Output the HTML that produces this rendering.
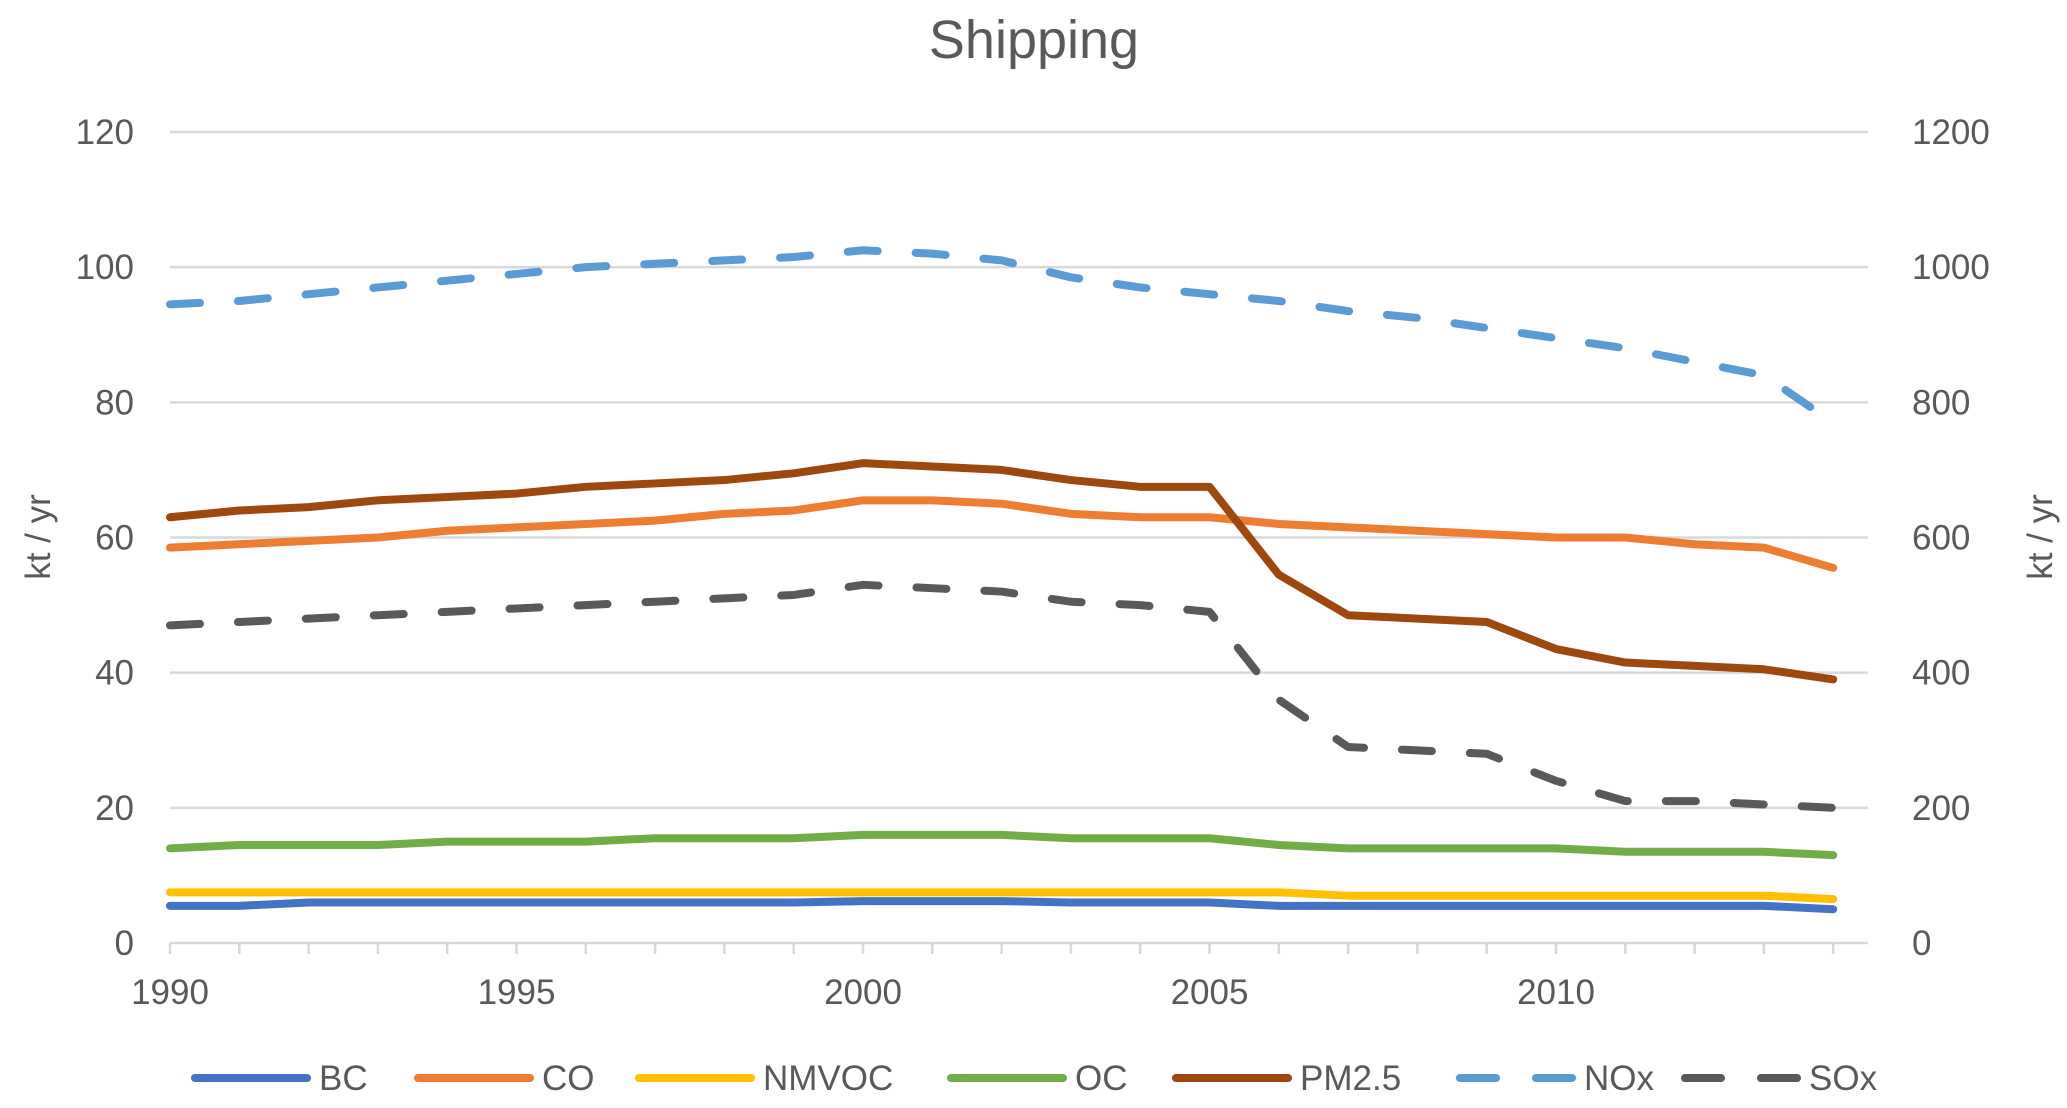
<!DOCTYPE html>
<html><head><meta charset="utf-8"><style>
html,body{margin:0;padding:0;background:#fff;}
svg{display:block;font-family:"Liberation Sans",sans-serif;}
</style></head><body>
<svg id="chart" width="2067" height="1108" viewBox="0 0 2067 1108" xmlns="http://www.w3.org/2000/svg">
<text x="1034" y="58" text-anchor="middle" font-size="54" fill="#595959">Shipping</text>
<g id="grid"></g><g id="axes"></g><g id="series"></g><g id="legend"></g>
<text transform="translate(50,537) rotate(-90)" text-anchor="middle" font-size="35" fill="#595959">kt / yr</text>
<text transform="translate(2052,537) rotate(-90)" text-anchor="middle" font-size="35" fill="#595959">kt / yr</text>
</svg>
<script>
const years=[1990,1991,1992,1993,1994,1995,1996,1997,1998,1999,2000,2001,2002,2003,2004,2005,2006,2007,2008,2009,2010,2011,2012,2013,2014];
const leftTicks=[0,20,40,60,80,100,120];
const rightTicks=[0,200,400,600,800,1000,1200];
const xLabels=[1990,1995,2000,2005,2010];
const bc=[5.5,5.5,6,6,6,6,6,6,6,6,6.2,6.2,6.2,6,6,6,5.5,5.5,5.5,5.5,5.5,5.5,5.5,5.5,5];
const co=[58.5,59,59.5,60,61,61.5,62,62.5,63.5,64,65.5,65.5,65,63.5,63,63,62,61.5,61,60.5,60,60,59,58.5,55.5];
const nmvoc=[7.5,7.5,7.5,7.5,7.5,7.5,7.5,7.5,7.5,7.5,7.5,7.5,7.5,7.5,7.5,7.5,7.5,7,7,7,7,7,7,7,6.5];
const oc=[14,14.5,14.5,14.5,15,15,15,15.5,15.5,15.5,16,16,16,15.5,15.5,15.5,14.5,14,14,14,14,13.5,13.5,13.5,13];
const pm25=[63,64,64.5,65.5,66,66.5,67.5,68,68.5,69.5,71,70.5,70,68.5,67.5,67.5,54.5,48.5,48,47.5,43.5,41.5,41,40.5,39];
const nox=[945,950,960,970,980,990,1000,1005,1010,1015,1025,1020,1010,985,970,960,950,935,925,910,895,880,860,840,770];
const sox=[470,475,480,485,490,495,500,505,510,515,530,525,520,505,500,490,360,290,285,280,240,210,210,205,200];

const NS="http://www.w3.org/2000/svg";
const X0=170,X1=1868,Y0=943,Y1=132;
const step=69.3;
const x=i=>X0+i*step;
const yL=v=>Y0-(v/120)*(Y0-Y1);
const yR=v=>Y0-(v/1200)*(Y0-Y1);
function mk(tag,attrs,parent){const e=document.createElementNS(NS,tag);for(const k in attrs)e.setAttribute(k,attrs[k]);parent.appendChild(e);return e;}
const grid=document.getElementById('grid'),axes=document.getElementById('axes'),ser=document.getElementById('series'),leg=document.getElementById('legend');
leftTicks.forEach((t,i)=>{
  if(t>0){const l=mk('line',{x1:X0,x2:X1,y1:yL(t),y2:yL(t),stroke:'#d9d9d9','stroke-width':2.5},grid);
  
  }
  const a=mk('text',{x:134,y:yL(t)+12,'text-anchor':'end','font-size':35,fill:'#595959'},axes);a.textContent=t;
  
  
  const b=mk('text',{x:1912,y:yR(rightTicks[i])+12,'text-anchor':'start','font-size':35,fill:'#595959'},axes);b.textContent=rightTicks[i];
  
  
});
const ax=mk('line',{x1:X0,x2:X1,y1:Y0,y2:Y0,stroke:'#d9d9d9','stroke-width':2.5},axes);


years.forEach((yr,i)=>{
  const t=mk('line',{x1:x(i),x2:x(i),y1:Y0,y2:Y0+11,stroke:'#d9d9d9','stroke-width':2.5},axes);
  
  
  if(xLabels.includes(yr)){const l=mk('text',{x:x(i),y:1004,'text-anchor':'middle','font-size':35,fill:'#595959'},axes);l.textContent=yr;
  
  }
});
const series=[
 {n:'BC',d:bc,c:'#4472c4',s:yL,dash:false},
 {n:'CO',d:co,c:'#ed7d31',s:yL,dash:false},
 {n:'NMVOC',d:nmvoc,c:'#ffc000',s:yL,dash:false},
 {n:'OC',d:oc,c:'#70ad47',s:yL,dash:false},
 {n:'PM2.5',d:pm25,c:'#9e480e',s:yL,dash:false},
 {n:'NOx',d:nox,c:'#5b9bd5',s:yR,dash:true},
 {n:'SOx',d:sox,c:'#595959',s:yR,dash:true}];
const order=['NMVOC','BC','OC','CO','PM2.5','SOx','NOx'];
order.forEach(name=>{const s=series.find(q=>q.n===name);
  const p=mk('polyline',{points:s.d.map((v,i)=>x(i)+','+s.s(v)).join(' '),fill:'none',stroke:s.c,'stroke-width':8,'stroke-linejoin':'round','stroke-linecap':'round'},ser);
  if(s.dash)p.setAttribute('stroke-dasharray','30 38');
  
  
});
const legX=[195,418,639,951,1176,1460,1685];
series.forEach((s,i)=>{
  const g=mk('g',{},leg);
  
  
  const l=mk('line',{x1:legX[i],x2:legX[i]+112,y1:1078,y2:1078,stroke:s.c,'stroke-width':8,'stroke-linecap':'round'},g);
  if(s.dash)l.setAttribute('stroke-dasharray','36 40');
  const t=mk('text',{x:legX[i]+124,y:1090,'font-size':35,fill:'#595959'},g);t.textContent=s.n;
});
</script>
</body></html>
